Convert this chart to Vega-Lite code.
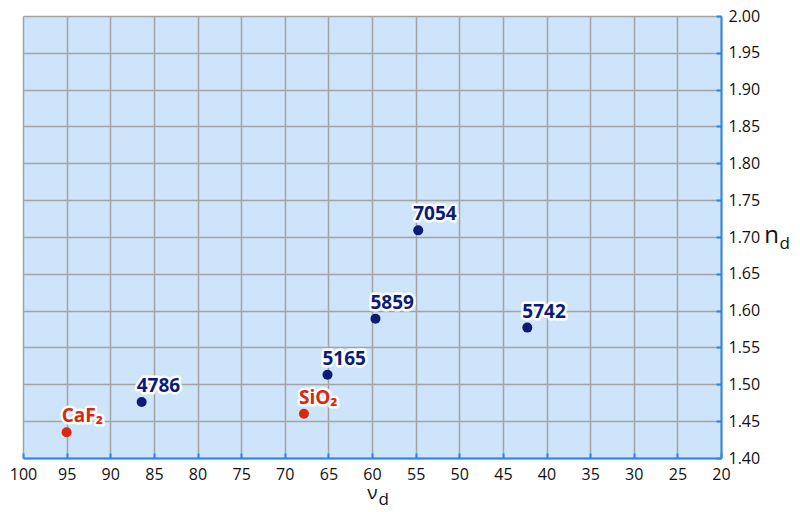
{
  "$schema": "https://vega.github.io/schema/vega-lite/v6.json",
  "width": 698,
  "height": 442,
  "autosize": {"type": "none"},
  "padding": {"left": 23, "top": 16, "right": 79, "bottom": 54},
  "background": "white",
  "config": {
    "view": {"fill": "#cde4fa", "stroke": null},
    "font": "Open Sans",
    "axis": {
      "gridColor": "#a3a3a3",
      "gridWidth": 1.5,
      "gridOpacity": 1,
      "domainColor": "#2f84ee",
      "domainWidth": 2,
      "tickColor": "#2f84ee",
      "tickWidth": 2,
      "labelFont": "Open Sans",
      "labelFontSize": 16,
      "labelColor": "#111111",
      "titleFont": "Open Sans",
      "titleFontWeight": "normal",
      "titleColor": "#111111"
    }
  },
  "data": {
    "values": [
      {"name": "CaF₂", "vd": 95.0, "nd": 1.435, "kind": "crystal"},
      {"name": "4786", "vd": 86.4, "nd": 1.476, "kind": "glass"},
      {"name": "SiO₂", "vd": 67.8, "nd": 1.460, "kind": "crystal"},
      {"name": "5165", "vd": 65.1, "nd": 1.513, "kind": "glass"},
      {"name": "5859", "vd": 59.6, "nd": 1.589, "kind": "glass"},
      {"name": "7054", "vd": 54.7, "nd": 1.709, "kind": "glass"},
      {"name": "5742", "vd": 42.2, "nd": 1.577, "kind": "glass"}
    ]
  },
  "resolve": {"axis": {"x": "independent", "y": "independent"}},
  "layer": [
    {
      "mark": {"type": "circle", "size": 100, "opacity": 1},
      "encoding": {
        "x": {
          "field": "vd", "type": "quantitative",
          "scale": {"domain": [100, 20], "nice": false, "zero": false},
          "axis": {
            "orient": "bottom", "title": "ν", "titleFontSize": 19,
            "values": [20,25,30,35,40,45,50,55,60,65,70,75,80,85,90,95,100],
            "grid": true, "tickSize": -5, "labelPadding": 13,
            "titleX": 349, "titleY": 40, "titleAlign": "center", "titleBaseline": "alphabetic",
            "labelFlush": false
          }
        },
        "y": {
          "field": "nd", "type": "quantitative",
          "scale": {"domain": [1.4, 2.0], "nice": false, "zero": false},
          "axis": {
            "orient": "right", "title": "n", "titleFontSize": 24, "titleAngle": 0,
            "values": [1.4,1.45,1.5,1.55,1.6,1.65,1.7,1.75,1.8,1.85,1.9,1.95,2.0],
            "format": ".2f", "grid": true, "tickSize": -5, "labelPadding": 12,
            "titleX": 50, "titleY": 226, "titleAlign": "center", "titleBaseline": "alphabetic",
            "labelFlush": false
          }
        },
        "color": {
          "field": "kind", "type": "nominal",
          "scale": {"domain": ["glass", "crystal"], "range": ["#0c1a78", "#d8280f"]},
          "legend": null
        }
      }
    },
    {
      "mark": {"type": "text", "align": "left", "baseline": "alphabetic", "dx": -5, "dy": -10,
               "fontSize": 19, "fontWeight": "bold", "stroke": "white", "strokeWidth": 5,
               "strokeJoin": "round", "fill": "white", "opacity": 0.95},
      "encoding": {
        "x": {
          "field": "vd", "type": "quantitative",
          "axis": {
            "orient": "top", "title": "d", "titleFontSize": 17, "domain": false, "ticks": false,
            "labels": false, "grid": false, "titleX": 355, "titleY": 488,
            "titleAlign": "left", "titleBaseline": "alphabetic"
          }
        },
        "y": {
          "field": "nd", "type": "quantitative",
          "axis": {
            "orient": "left", "title": "d", "titleFontSize": 17, "titleAngle": 0, "domain": false,
            "ticks": false, "labels": false, "grid": false, "titleX": 756, "titleY": 232,
            "titleAlign": "left", "titleBaseline": "alphabetic"
          }
        },
        "text": {"field": "name"}
      }
    },
    {
      "mark": {"type": "text", "align": "left", "baseline": "alphabetic", "dx": -5, "dy": -10,
               "fontSize": 19, "fontWeight": "bold"},
      "encoding": {
        "x": {"field": "vd", "type": "quantitative", "axis": null},
        "y": {"field": "nd", "type": "quantitative", "axis": null},
        "text": {"field": "name"},
        "color": {
          "field": "kind", "type": "nominal",
          "scale": {"domain": ["glass", "crystal"], "range": ["#0c1a78", "#d8280f"]},
          "legend": null
        }
      }
    }
  ]
}
